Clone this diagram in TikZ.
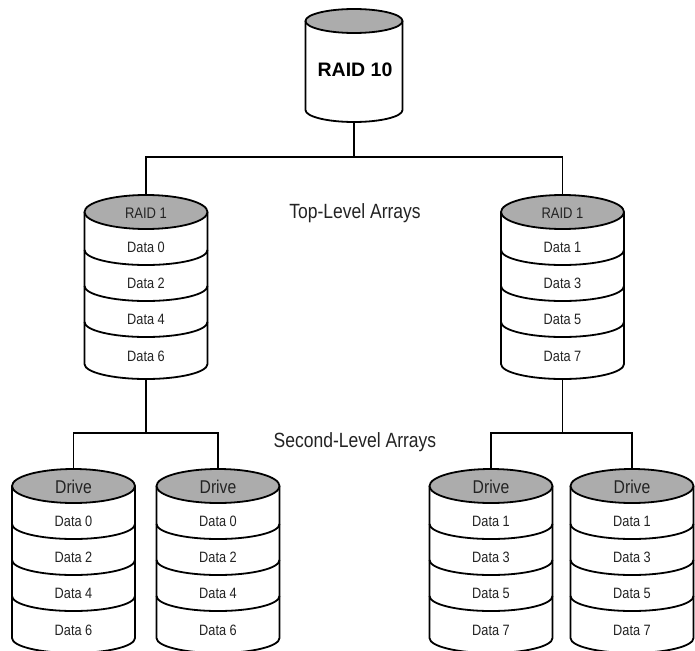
\documentclass[tikz,border=0pt]{standalone}
\usepackage{fontspec}
\setmainfont{Liberation Sans}
\newfontfamily\narrowfont[FakeStretch=0.85]{Liberation Sans}
\definecolor{capgray}{RGB}{172,172,172}
\definecolor{inkgray}{RGB}{35,35,35}

\tikzset{
  wire/.style={line width=1.8pt, black},
  disk edge/.style={line width=1.8pt, black, line join=round},
  datalabel/.style={inner sep=0pt, text=inkgray, font=\narrowfont\fontsize{15}{16}\selectfont},
  arraylabel/.style={inner sep=0pt, text=inkgray, font=\narrowfont\fontsize{20.6}{22}\selectfont},
  rootlabel/.style={inner sep=0pt, text=black, font=\bfseries\fontsize{19.5}{21}\selectfont},
  % a stacked drive: grey cap with a header, four data bands below
  pics/diskstack/.style n args={6}{code={
    \fill[white] (-61.5,0) -- (-61.5,152)
      arc[start angle=180, end angle=360, x radius=61.5pt, y radius=15pt]
      -- (61.5,0) -- cycle;
    \draw[disk edge] (-61.5,0) -- (-61.5,152)
      arc[start angle=180, end angle=360, x radius=61.5pt, y radius=15pt]
      -- (61.5,0);
    \foreach \d in {38,74,110}
      \draw[disk edge] (-61.5,\d)
        arc[start angle=180, end angle=360, x radius=61.5pt, y radius=15pt];
    \draw[disk edge, fill=capgray] (0,0) ellipse[x radius=61.5pt, y radius=17pt];
    \node[inner sep=0pt, text=inkgray, font=\narrowfont\fontsize{#1}{#1}\selectfont] (-head) at (0,1) {#2};
    \node[datalabel] (-d0) at (0,35) {#3};
    \node[datalabel] (-d1) at (0,71) {#4};
    \node[datalabel] (-d2) at (0,107) {#5};
    \node[datalabel] (-d3) at (0,144) {#6};
    \coordinate (-top) at (0,-17);
    \coordinate (-bot) at (0,167);
  }}
}

\begin{document}
\begin{tikzpicture}[x=1pt, y=-1pt]
\useasboundingbox[fill=white] (0,0) rectangle (695,650);

% root array
\fill[white] (305.5,21) -- (305.5,110)
  arc[start angle=180, end angle=360, x radius=48.5pt, y radius=12pt]
  -- (402.5,21) -- cycle;
\draw[disk edge] (305.5,21) -- (305.5,110)
  arc[start angle=180, end angle=360, x radius=48.5pt, y radius=12pt]
  -- (402.5,21);
\draw[disk edge, fill=capgray] (354,21) ellipse[x radius=48.5pt, y radius=12pt];
\node[rootlabel] (raid10) at (355,70) {RAID 10};
\coordinate (r10-bot) at (354,122);

% top-level arrays
\pic (lt) at (146,212) {diskstack={15.3}{RAID 1}{Data 0}{Data 2}{Data 4}{Data 6}};
\pic (rt) at (562.5,212) {diskstack={15.3}{RAID 1}{Data 1}{Data 3}{Data 5}{Data 7}};

% second-level arrays
\pic (lb1) at (73.5,486) {diskstack={18.5}{Drive}{Data 0}{Data 2}{Data 4}{Data 6}};
\pic (lb2) at (218,486) {diskstack={18.5}{Drive}{Data 0}{Data 2}{Data 4}{Data 6}};
\pic (rb1) at (491,486) {diskstack={18.5}{Drive}{Data 1}{Data 3}{Data 5}{Data 7}};
\pic (rb2) at (632,486) {diskstack={18.5}{Drive}{Data 1}{Data 3}{Data 5}{Data 7}};

% level captions
\node[arraylabel] (toplbl) at (355,213) {Top-Level Arrays};
\node[arraylabel] (seclbl) at (355,442) {Second-Level Arrays};

% bus rails
\coordinate (busA) at (0,157);
\coordinate (busB) at (0,433);

% connectors
\draw[wire] (r10-bot) -- (r10-bot |- busA);
\draw[wire] (lt-top) -- (lt-top |- busA) -- (rt-top |- busA) -- (rt-top);

\draw[wire] (lt-bot) -- (lt-bot |- busB);
\draw[wire] (lb1-top) -- (lb1-top |- busB) -- (lb2-top |- busB) -- (lb2-top);

\draw[wire] (rt-bot) -- (rt-bot |- busB);
\draw[wire] (rb1-top) -- (rb1-top |- busB) -- (rb2-top |- busB) -- (rb2-top);
\end{tikzpicture}
\end{document}
